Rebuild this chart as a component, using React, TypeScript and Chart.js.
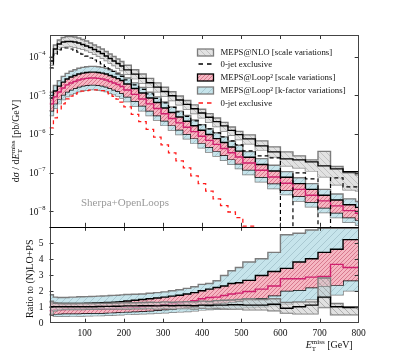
import React, { useEffect, useRef } from 'react';
import { Chart, registerables } from 'chart.js';

Chart.register(...registerables);

// ---------------- data ----------------
const BIN_EDGES = [
  10, 20, 30, 40, 50, 60, 70, 80, 90, 100, 110, 120, 130, 140, 150, 160, 170, 180, 190, 200,
  219, 238, 257, 276, 295, 314, 333, 352, 371, 390, 409, 428, 447, 466, 485, 504,
  536, 568, 600, 632, 664, 696, 728, 760, 792, 800,
];
const X_TICKS = [100, 200, 300, 400, 500, 600, 700, 800];
const Y_DECADES = [-4, -5, -6, -7, -8];
const RATIO_TICKS = [0, 1, 2, 3, 4, 5];
const Y_MIN = 3.97e-9;
const Y_MAX = 3.64e-4;
const R_MIN = 0;
const R_MAX = 6;

// MEPS@NLO (scale variations) upper / lower, central, 0-jet exclusive
const nloHi = [9.8e-5, 2.0e-4, 2.7e-4, 3.13e-4, 3.33e-4, 3.33e-4, 3.23e-4, 3.04e-4, 2.78e-4, 2.55e-4, 2.26e-4, 2.0e-4, 1.78e-4, 1.58e-4, 1.36e-4, 1.17e-4, 1.01e-4, 8.71e-5, 7.52e-5,
  6.0e-5, 4.61e-5, 3.55e-5, 2.74e-5, 2.10e-5, 1.62e-5, 1.24e-5, 9.6e-6, 7.38e-6, 5.68e-6, 4.38e-6, 3.37e-6, 2.59e-6, 2.0e-6, 1.52e-6, 1.17e-6,
  9.5e-7, 6.64e-7, 4.65e-7, 3.44e-7, 2.72e-7, 2.14e-7, 3.55e-7, 1.44e-7, 9.9e-8, 8.77e-8];
const nloLo = [6.1e-5, 1.24e-4, 1.58e-4, 1.78e-4, 1.83e-4, 1.83e-4, 1.78e-4, 1.68e-4, 1.58e-4, 1.45e-4, 1.32e-4, 1.17e-4, 1.04e-4, 9.25e-5, 7.98e-5, 6.87e-5, 5.92e-5, 5.11e-5, 4.40e-5,
  3.49e-5, 2.70e-5, 2.08e-5, 1.61e-5, 1.24e-5, 9.6e-6, 7.38e-6, 5.71e-6, 4.40e-6, 3.39e-6, 2.62e-6, 2.02e-6, 1.56e-6, 1.20e-6, 9.25e-7, 7.16e-7,
  5.55e-7, 3.88e-7, 2.56e-7, 1.50e-7, 1.33e-7, 1.11e-7, 7.78e-8, 4.84e-8, 3.59e-8, 3.39e-8];
const nloMid = [7.74e-5, 1.58e-4, 2.13e-4, 2.4e-4, 2.47e-4, 2.47e-4, 2.4e-4, 2.26e-4, 2.07e-4, 1.89e-4, 1.73e-4, 1.53e-4, 1.36e-4, 1.21e-4, 1.04e-4, 8.98e-5, 7.74e-5, 6.67e-5, 5.75e-5,
  4.56e-5, 3.53e-5, 2.74e-5, 2.11e-5, 1.63e-5, 1.26e-5, 9.75e-6, 7.55e-6, 5.85e-6, 4.51e-6, 3.49e-6, 2.70e-6, 2.09e-6, 1.62e-6, 1.24e-6, 9.64e-7,
  7.46e-7, 4.92e-7, 3.44e-7, 2.27e-7, 2.14e-7, 1.90e-7, 1.50e-7, 1.25e-7, 1.05e-7, 1.05e-7];
const nlo0j = [5.11e-5, 1.11e-4, 1.49e-4, 1.68e-4, 1.68e-4, 1.58e-4, 1.45e-4, 1.32e-4, 1.17e-4, 1.04e-4, 9.25e-5, 8.22e-5, 7.3e-5, 6.48e-5, 5.58e-5, 4.81e-5, 4.14e-5, 3.57e-5, 3.08e-5,
  2.50e-5, 1.86e-5, 1.42e-5, 1.09e-5, 8.32e-6, 6.35e-6, 4.86e-6, 3.72e-6, 2.85e-6, 2.18e-6, 1.72e-6, 1.36e-6, 1.07e-6, 8.41e-7, 6.64e-7, 5.22e-7,
  3.66e-7, 2.72e-7, 2.41e-7, 0, 9.9e-8, 6.92e-8, 0, 7.35e-8, 4.30e-8, 4.30e-8];

// MEPS@Loop2: k-factor band, scale band, central, 0-jet exclusive
const l2KHi = [1.2e-5, 1.8e-5, 2.4e-5, 3.1e-5, 3.7e-5, 4.2e-5, 4.6e-5, 5.0e-5, 5.3e-5, 5.5e-5, 5.6e-5, 5.6e-5, 5.5e-5, 5.3e-5, 5.0e-5, 4.6e-5, 4.2e-5, 3.8e-5, 3.4e-5,
  2.8e-5, 2.1e-5, 1.6e-5, 1.2e-5, 9.1e-6, 6.7e-6, 5.0e-6, 3.9e-6, 3.0e-6, 2.3e-6, 1.75e-6, 1.37e-6, 1.08e-6, 8.4e-7, 6.5e-7, 5.1e-7,
  3.5e-7, 2.3e-7, 1.55e-7, 1.06e-7, 7.4e-8, 5.2e-8, 3.7e-8, 2.8e-8, 2.1e-8, 1.8e-8];
const l2KLo = [3.0e-6, 4.6e-6, 6.1e-6, 7.8e-6, 9.3e-6, 1.05e-5, 1.15e-5, 1.25e-5, 1.33e-5, 1.37e-5, 1.41e-5, 1.41e-5, 1.37e-5, 1.33e-5, 1.25e-5, 1.15e-5, 1.05e-5, 9.6e-6, 8.5e-6,
  6.9e-6, 5.3e-6, 4.0e-6, 3.0e-6, 2.3e-6, 1.67e-6, 1.26e-6, 9.7e-7, 7.5e-7, 5.8e-7, 4.4e-7, 3.4e-7, 2.7e-7, 2.1e-7, 1.64e-7, 1.28e-7,
  8.9e-8, 5.8e-8, 3.9e-8, 2.7e-8, 1.84e-8, 1.31e-8, 9.3e-9, 6.9e-9, 5.2e-9, 4.4e-9];
const l2SHi = [8.5e-6, 1.3e-5, 1.73e-5, 2.2e-5, 2.64e-5, 2.97e-5, 3.25e-5, 3.55e-5, 3.76e-5, 3.89e-5, 3.99e-5, 3.99e-5, 3.89e-5, 3.76e-5, 3.55e-5, 3.25e-5, 2.97e-5, 2.71e-5, 2.41e-5,
  1.96e-5, 1.5e-5, 1.15e-5, 8.5e-6, 6.5e-6, 4.7e-6, 3.6e-6, 2.75e-6, 2.13e-6, 1.63e-6, 1.25e-6, 9.7e-7, 7.6e-7, 6.0e-7, 4.6e-7, 3.6e-7,
  2.5e-7, 1.63e-7, 1.1e-7, 7.6e-8, 5.2e-8, 3.7e-8, 2.6e-8, 1.96e-8, 1.48e-8, 1.26e-8];
const l2SLo = [4.0e-6, 6.1e-6, 8.1e-6, 1.03e-5, 1.24e-5, 1.39e-5, 1.53e-5, 1.67e-5, 1.77e-5, 1.83e-5, 1.87e-5, 1.87e-5, 1.83e-5, 1.77e-5, 1.67e-5, 1.53e-5, 1.39e-5, 1.27e-5, 1.13e-5,
  9.2e-6, 7.1e-6, 5.4e-6, 4.0e-6, 3.0e-6, 2.2e-6, 1.67e-6, 1.29e-6, 1.0e-6, 7.7e-7, 5.8e-7, 4.6e-7, 3.6e-7, 2.8e-7, 2.2e-7, 1.7e-7,
  1.18e-7, 7.7e-8, 5.2e-8, 3.5e-8, 2.45e-8, 1.74e-8, 1.24e-8, 9.2e-9, 6.9e-9, 5.9e-9];
const l2Mid = [6.0e-6, 9.1e-6, 1.22e-5, 1.55e-5, 1.86e-5, 2.09e-5, 2.29e-5, 2.50e-5, 2.65e-5, 2.74e-5, 2.81e-5, 2.81e-5, 2.74e-5, 2.65e-5, 2.50e-5, 2.29e-5, 2.09e-5, 1.91e-5, 1.70e-5,
  1.38e-5, 1.06e-5, 8.07e-6, 6.0e-6, 4.56e-6, 3.34e-6, 2.51e-6, 1.94e-6, 1.50e-6, 1.15e-6, 8.77e-7, 6.84e-7, 5.38e-7, 4.20e-7, 3.27e-7, 2.55e-7,
  1.77e-7, 1.15e-7, 7.74e-8, 5.32e-8, 3.68e-8, 2.61e-8, 1.86e-8, 1.38e-8, 1.04e-8, 8.87e-9];
const l20j = [1.44e-6, 2.61e-6, 4.2e-6, 6.0e-6, 8.07e-6, 9.5e-6, 1.07e-5, 1.18e-5, 1.28e-5, 1.33e-5, 1.36e-5, 1.38e-5, 1.38e-5, 1.33e-5, 1.22e-5, 1.09e-5, 9.4e-6, 8.0e-6, 6.7e-6,
  5.01e-6, 3.21e-6, 2.08e-6, 1.32e-6, 8.26e-7, 5.22e-7, 3.25e-7, 2.02e-7, 1.33e-7, 8.26e-8, 5.2e-8, 3.33e-8, 2.10e-8, 1.40e-8, 9.6e-9, 6.87e-9,
  4.1e-9, 0, 0, 0, 0, 0, 0, 0, 0, 0];

// ratio panel
const rKHi = [1.75, 1.6, 1.58, 1.58, 1.58, 1.6, 1.6, 1.62, 1.62, 1.63, 1.64, 1.65, 1.66, 1.67, 1.68, 1.7, 1.71, 1.72, 1.74,
  1.76, 1.78, 1.8, 1.84, 1.88, 1.93, 2.0, 2.06, 2.15, 2.25, 2.4, 2.45, 2.62, 2.95, 3.25, 3.45,
  3.8, 4.0, 4.4, 5.5, 5.6, 5.8, 5.9, 5.9, 5.9, 5.9];
const rKLo = [0.5, 0.42, 0.4, 0.4, 0.4, 0.41, 0.41, 0.42, 0.42, 0.43, 0.43, 0.44, 0.44, 0.45, 0.46, 0.47, 0.48, 0.49, 0.5,
  0.52, 0.54, 0.56, 0.58, 0.6, 0.62, 0.65, 0.68, 0.7, 0.74, 0.8, 0.82, 0.84, 0.86, 0.88, 0.9,
  0.95, 1.0, 1.08, 1.18, 1.3, 1.45, 1.58, 1.75, 2.0, 2.0];
const rSHi = [1.3, 1.22, 1.2, 1.2, 1.2, 1.2, 1.2, 1.21, 1.21, 1.22, 1.22, 1.23, 1.24, 1.25, 1.26, 1.27, 1.28, 1.3, 1.32,
  1.36, 1.4, 1.45, 1.5, 1.55, 1.6, 1.66, 1.72, 1.8, 1.88, 2.0, 2.1, 2.2, 2.3, 2.45, 2.5,
  2.65, 2.95, 3.2, 3.4, 3.8, 4.0, 4.4, 4.6, 5.2, 5.2];
const rSLo = [0.5, 0.55, 0.56, 0.57, 0.57, 0.58, 0.58, 0.58, 0.59, 0.59, 0.6, 0.6, 0.61, 0.61, 0.62, 0.63, 0.64, 0.65, 0.66,
  0.68, 0.7, 0.72, 0.75, 0.78, 0.82, 0.86, 0.9, 0.95, 1.0, 1.1, 1.15, 1.2, 1.25, 1.3, 1.35,
  1.45, 1.55, 1.7, 2.0, 2.05, 2.2, 2.3, 2.35, 2.64, 2.64];
const rMid = [0.75, 0.8, 0.82, 0.83, 0.84, 0.84, 0.85, 0.85, 0.85, 0.86, 0.86, 0.86, 0.87, 0.87, 0.88, 0.88, 0.89, 0.9, 0.91,
  0.93, 0.96, 1.0, 1.04, 1.08, 1.13, 1.18, 1.24, 1.3, 1.37, 1.5, 1.58, 1.6, 1.7, 1.8, 1.85,
  1.95, 2.1, 2.3, 2.75, 2.75, 2.85, 2.9, 3.65, 3.45, 3.45];
const rNHi = [1.35, 1.25, 1.22, 1.2, 1.2, 1.2, 1.2, 1.2, 1.2, 1.2, 1.2, 1.2, 1.21, 1.21, 1.22, 1.22, 1.23, 1.23, 1.24,
  1.25, 1.25, 1.26, 1.28, 1.27, 1.3, 1.28, 1.3, 1.32, 1.3, 1.35, 1.33, 1.38, 1.4, 1.42, 1.45,
  1.5, 1.45, 1.5, 1.27, 1.3, 1.3, 2.8, 1.2, 1.0, 1.0];
const rNLo = [0.55, 0.75, 0.8, 0.82, 0.82, 0.83, 0.83, 0.83, 0.83, 0.84, 0.84, 0.84, 0.84, 0.85, 0.85, 0.85, 0.85, 0.86, 0.86,
  0.86, 0.87, 0.87, 0.88, 0.85, 0.88, 0.86, 0.88, 0.88, 0.86, 0.9, 0.88, 0.9, 0.88, 0.85, 0.85,
  0.8, 0.8, 0.75, 0.6, 0.55, 0.55, 0.95, 0.5, 0.5, 0.5];
const rNMid = [1.0, 1.0, 1.0, 1.0, 1.0, 1.0, 1.0, 1.0, 1.0, 1.0, 1.0, 1.0, 1.01, 1.01, 1.02, 1.02, 1.03, 1.03, 1.04,
  1.05, 1.05, 1.06, 1.06, 1.05, 1.08, 1.06, 1.08, 1.08, 1.06, 1.1, 1.08, 1.1, 1.1, 1.12, 1.12,
  1.1, 1.1, 1.15, 0.9, 1.0, 1.1, 1.6, 1.0, 0.95, 0.95];

const LEGEND = [
  'MEPS@NLO [scale variations]',
  '0-jet exclusive',
  'MEPS@Loop² [scale variations]',
  'MEPS@Loop² [k-factor variations]',
  '0-jet exclusive',
];

// ---------------- helpers ----------------
const FONT = '"Liberation Serif", "DejaVu Serif", serif';
const font = (s: number, it = false) => `${it ? 'italic ' : ''}${s}px ${FONT}`;
const OFF_AXIS = 1e-12; // zero-content bins fall off the bottom of the log panel

type Part = { t: string; s: number; dy?: number; it?: boolean; hold?: boolean };

function richWidth(ctx: CanvasRenderingContext2D, parts: Part[]) {
  let w = 0;
  let held = 0;
  for (const p of parts) {
    ctx.font = font(p.s, p.it);
    const pw = ctx.measureText(p.t).width;
    if (p.hold) { held = pw; continue; }
    w += Math.max(pw, held);
    held = 0;
  }
  return w;
}

function drawRich(ctx: CanvasRenderingContext2D, parts: Part[], x: number, y: number, align: 'left' | 'right' | 'center') {
  const w = richWidth(ctx, parts);
  let cx = align === 'left' ? x : align === 'right' ? x - w : x - w / 2;
  let held = 0;
  ctx.textAlign = 'left';
  for (const p of parts) {
    ctx.font = font(p.s, p.it);
    ctx.fillText(p.t, cx, y + (p.dy || 0));
    const pw = ctx.measureText(p.t).width;
    if (p.hold) { held = pw; continue; }
    cx += Math.max(pw, held);
    held = 0;
  }
}

function steps(vals: number[], zeroTo?: number) {
  const pts: { x: number; y: number }[] = [];
  for (let i = 0; i < vals.length; i++) {
    let v = vals[i];
    if (zeroTo !== undefined && v <= 0) v = zeroTo;
    pts.push({ x: BIN_EDGES[i], y: v }, { x: BIN_EDGES[i + 1], y: v });
  }
  return pts;
}

function hatch(ctx: CanvasRenderingContext2D, bg: string, line: string, n: number, dir: 1 | -1, lw = 0.8) {
  const c = document.createElement('canvas');
  c.width = n; c.height = n;
  const g = c.getContext('2d')!;
  g.fillStyle = bg; g.fillRect(0, 0, n, n);
  g.strokeStyle = line; g.lineWidth = lw;
  g.beginPath();
  if (dir === 1) {
    g.moveTo(-1, n + 1); g.lineTo(n + 1, -1);
    g.moveTo(-1, 1); g.lineTo(1, -1);
    g.moveTo(n - 1, n + 1); g.lineTo(n + 1, n - 1);
  } else {
    g.moveTo(-1, -1); g.lineTo(n + 1, n + 1);
    g.moveTo(n - 1, -1); g.lineTo(n + 1, 1);
    g.moveTo(-1, n - 1); g.lineTo(1, n + 1);
  }
  g.stroke();
  return ctx.createPattern(c, 'repeat')!;
}

const MAGENTA = '#d0206e';
const BAND_EDGE = '#7c7c7c';
const RED = '#ff1a1a';

export default function App() {
  const ref = useRef<HTMLCanvasElement>(null);

  useEffect(() => {
    const canvas = ref.current!;
    const ctx = canvas.getContext('2d')!;
    const bluePat = hatch(ctx, '#c6e4eb', '#9cbcc5', 7, 1, 0.7);
    const pinkPat = hatch(ctx, '#f6b6c2', '#c4506c', 4, 1, 0.6);
    const grayPat = hatch(ctx, '#e2e2e2', '#b4b4b4', 6, -1, 0.7);
    const grayPatA = hatch(ctx, 'rgba(205,205,205,0.6)', 'rgba(140,140,140,0.8)', 6, -1, 0.7);

    const line = (data: any, yAxisID: string, color: string, order: number, extra: any = {}) => ({
      data, yAxisID, borderColor: color, borderWidth: 1.4, pointRadius: 0, fill: false, order,
      borderJoinStyle: 'miter', borderCapStyle: 'butt', ...extra,
    });

    const datasets: any[] = [
      line(steps(nloHi), 'y', BAND_EDGE, 4, { fill: '+1', backgroundColor: grayPat }),
      line(steps(nloLo), 'y', BAND_EDGE, 4),
      line(steps(nloMid), 'y', '#000', 3),
      line(steps(nlo0j, OFF_AXIS), 'y', '#000', 2, { borderWidth: 1.2, borderDash: [4, 3] }),
      line(steps(l2KHi), 'y', BAND_EDGE, 10, { fill: '+1', backgroundColor: bluePat }),
      line(steps(l2KLo), 'y', BAND_EDGE, 10),
      line(steps(l2SHi), 'y', '#000', 8, { fill: '+1', backgroundColor: pinkPat }),
      line(steps(l2SLo), 'y', '#000', 8),
      line(steps(l2Mid), 'y', MAGENTA, 6),
      line(steps(l20j, OFF_AXIS), 'y', RED, 5, { borderWidth: 1.3, borderDash: [4, 3.5] }),

      line(steps(rKHi), 'y2', BAND_EDGE, 10, { fill: '+1', backgroundColor: bluePat }),
      line(steps(rKLo), 'y2', BAND_EDGE, 10),
      line(steps(rSHi), 'y2', '#000', 8, { fill: '+1', backgroundColor: pinkPat }),
      line(steps(rSLo), 'y2', '#000', 8),
      line(steps(rMid), 'y2', MAGENTA, 6),
      line(steps(rNHi), 'y2', BAND_EDGE, 4, { fill: '+1', backgroundColor: grayPatA }),
      line(steps(rNLo), 'y2', BAND_EDGE, 4),
      line(steps(rNMid), 'y2', '#000', 3),
    ];

    const deco = {
      id: 'deco',
      afterDraw(chart: any) {
        const c: CanvasRenderingContext2D = chart.ctx;
        const xs = chart.scales.x, ys = chart.scales.y, rs = chart.scales.y2;
        const L = xs.left, R = xs.right;
        const mT = ys.top, mB = ys.bottom, rT = rs.top, rB = rs.bottom;
        c.save();
        c.lineWidth = 1;
        c.strokeStyle = '#333';
        c.beginPath();
        for (const t of X_TICKS) {
          const px = Math.round(xs.getPixelForValue(t)) + 0.5;
          if (px >= R - 1) continue;
          c.moveTo(px, mT); c.lineTo(px, mT + 4);
          c.moveTo(px, mB); c.lineTo(px, mB - 4);
          c.moveTo(px, rT); c.lineTo(px, rT + 4);
          c.moveTo(px, rB); c.lineTo(px, rB - 4);
        }
        for (const d of Y_DECADES) {
          const py = Math.round(ys.getPixelForValue(Math.pow(10, d))) + 0.5;
          c.moveTo(L, py); c.lineTo(L + 4, py);
          c.moveTo(R, py); c.lineTo(R - 4, py);
        }
        for (const t of RATIO_TICKS) {
          if (t === R_MIN) continue;
          const py = Math.round(rs.getPixelForValue(t)) + 0.5;
          c.moveTo(L, py); c.lineTo(L + 4, py);
          c.moveTo(R, py); c.lineTo(R - 4, py);
        }
        c.stroke();
        // frames
        c.strokeStyle = '#444';
        c.strokeRect(Math.round(L) + 0.5, Math.round(mT) + 0.5, Math.round(R - L) - 1, Math.round(rB - mT) - 1);
        c.strokeStyle = '#000';
        c.lineWidth = 1.2;
        c.beginPath();
        c.moveTo(L, Math.round(mB) + 0.5); c.lineTo(R, Math.round(mB) + 0.5);
        c.stroke();

        // tick labels
        c.fillStyle = '#111';
        c.textBaseline = 'middle';
        c.font = font(9.5);
        c.textAlign = 'center';
        for (const t of X_TICKS) {
          c.fillText(String(t), xs.getPixelForValue(t), rB + 10.5);
        }
        for (const t of RATIO_TICKS) {
          c.font = font(9.5);
          c.textAlign = 'right';
          c.fillText(String(t), L - 6, rs.getPixelForValue(t) + 0.5);
        }
        for (const d of Y_DECADES) {
          const py = ys.getPixelForValue(Math.pow(10, d));
          drawRich(c, [{ t: '10', s: 9.5 }, { t: '\u2212' + String(-d), s: 6.5, dy: -4 }], L - 4, py + 1, 'right');
        }

        // axis titles
        c.textBaseline = 'alphabetic';
        c.fillStyle = '#111';
        drawRich(c, [
          { t: 'E', s: 10, it: true },
          { t: 'miss', s: 7, dy: -4.5, hold: true },
          { t: 'T', s: 7, dy: 2.5 },
          { t: ' [GeV]', s: 10 },
        ], R - 6, rB + 25.5, 'right');

        c.save();
        c.translate(19, (mT + mB) / 2 + 10);
        c.rotate(-Math.PI / 2);
        drawRich(c, [
          { t: 'd', s: 10 }, { t: 'σ', s: 10, it: true }, { t: ' / d', s: 10 }, { t: 'E', s: 10, it: true },
          { t: 'miss', s: 7, dy: -4.5, hold: true }, { t: 'T', s: 7, dy: 2.5 },
          { t: ' [pb/GeV]', s: 10 },
        ], 0, 0, 'center');
        c.restore();

        c.save();
        c.translate(33, (rT + rB) / 2 + 4);
        c.rotate(-Math.PI / 2);
        drawRich(c, [{ t: 'Ratio to (N)LO+PS', s: 10 }], 0, 0, 'center');
        c.restore();

        // watermark
        c.fillStyle = '#9a9a9a';
        c.font = font(11);
        c.textAlign = 'left';
        c.textBaseline = 'middle';
        c.fillText('Sherpa+OpenLoops', 81, 203);

        // legend
        const lx = 197.5, lw = 16, tx = 220.5;
        const rows = [52.5, 64, 77.5, 90.5, 103];
        c.textBaseline = 'middle';
        const swatch = (y: number, pat: CanvasPattern, edge: string) => {
          c.fillStyle = pat;
          c.fillRect(lx, y - 3.5, lw, 7);
          c.strokeStyle = edge; c.lineWidth = 1.3; c.setLineDash([]);
          c.strokeRect(lx, y - 3.5, lw, 7);
        };
        const dash = (y: number, col: string) => {
          c.strokeStyle = col; c.lineWidth = 1.3; c.setLineDash([4.5, 4]);
          c.beginPath(); c.moveTo(lx + 1, y); c.lineTo(lx + lw, y); c.stroke();
          c.setLineDash([]);
        };
        swatch(rows[0], grayPat, BAND_EDGE);
        dash(rows[1], '#000');
        swatch(rows[2], pinkPat, '#000');
        swatch(rows[3], bluePat, BAND_EDGE);
        dash(rows[4], RED);
        c.fillStyle = '#111';
        c.font = font(8.8);
        LEGEND.forEach((t, i) => { c.textAlign = 'left'; c.fillText(t, tx, rows[i] + 0.5); });
        c.restore();
      },
    };

    const chart = new Chart(canvas, {
      type: 'line',
      data: { datasets },
      options: {
        animation: false,
        responsive: false,
        maintainAspectRatio: false,
        devicePixelRatio: 1,
        layout: { padding: { left: 49.5, right: 40.3, top: 35, bottom: 36.3 } },
        plugins: { legend: { display: false }, tooltip: { enabled: false } },
        elements: { point: { radius: 0 }, line: { tension: 0 } },
        scales: {
          x: { type: 'linear', min: 10, max: 800, display: false },
          y2: { type: 'linear', min: R_MIN, max: R_MAX, display: false, position: 'left', stack: 'p', stackWeight: 1, clip: true } as any,
          y: { type: 'logarithmic', min: Y_MIN, max: Y_MAX, display: false, position: 'left', stack: 'p', stackWeight: 2, clip: true } as any,
        },
      } as any,
      plugins: [deco],
    });
    return () => chart.destroy();
  }, []);

  return (
    <div style={{ position: 'fixed', left: 0, top: 0, width: 399, height: 359, background: '#fff' }}>
      <canvas ref={ref} width={399} height={359} style={{ display: 'block', width: 399, height: 359 }} />
    </div>
  );
}
